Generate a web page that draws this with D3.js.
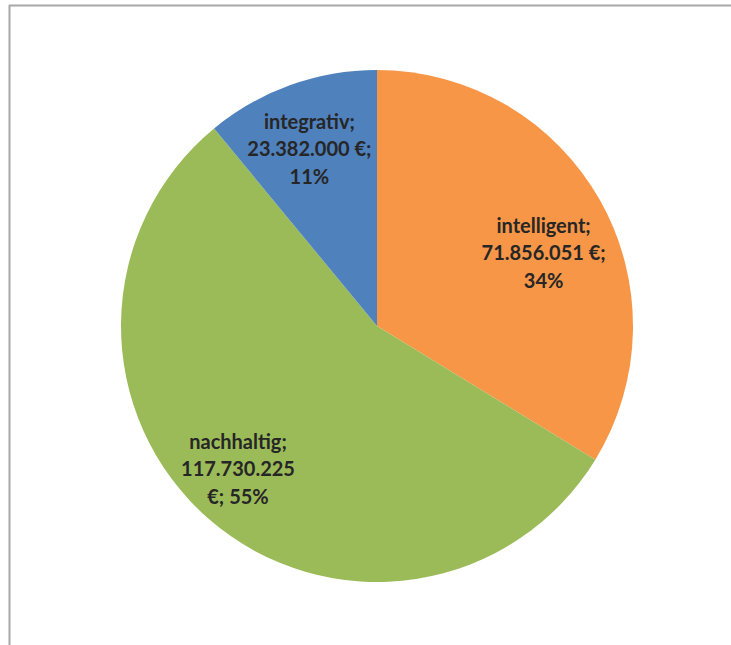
<!DOCTYPE html>
<html>
<head>
<meta charset="utf-8">
<script src="https://cdn.jsdelivr.net/npm/d3@7"></script>
<style>
  html, body { margin: 0; padding: 0; background: #ffffff; }
  svg { display: block; }
</style>
</head>
<body>
<svg id="chart" width="731" height="645"></svg>
<script>
// ---- data ----
const categories = ["intelligent", "nachhaltig", "integrativ"];
const amounts = [71856051, 117730225, 23382000];
const amountLabels = ["71.856.051 €", "117.730.225", "23.382.000 €"];
const percentLabels = ["34%", "55%", "11%"];
const sliceColors = ["#F79646", "#9BBB59", "#4F81BD"];

// ---- drawing ----
const svg = d3.select("#chart");
const cx = 377, cy = 326, R = 256;

// frame (left & top edges visible)
svg.append("line").attr("x1", 9.5).attr("y1", 5).attr("x2", 9.5).attr("y2", 645)
  .attr("stroke", "#a8a8a8").attr("stroke-width", 2);
svg.append("line").attr("x1", 9).attr("y1", 5.5).attr("x2", 731).attr("y2", 5.5)
  .attr("stroke", "#a8a8a8").attr("stroke-width", 2);

const data = categories.map((c, i) => ({ name: c, value: amounts[i], amount: amountLabels[i], pct: percentLabels[i], color: sliceColors[i] }));

const pie = d3.pie().value(d => d.value).sort(null).startAngle(0).endAngle(2 * Math.PI);
const arcs = pie(data);
const arc = d3.arc().innerRadius(0).outerRadius(R);

const g = svg.append("g").attr("transform", `translate(${cx},${cy})`);
g.selectAll("path.slice").data(arcs).enter().append("path")
  .attr("class", "slice")
  .attr("d", arc)
  .attr("fill", d => d.data.color);

// label lines (Excel-style wrapping)
const labelLines = {
  intelligent: d => [d.name + ";", d.amount + ";", d.pct],
  nachhaltig: d => [d.name + ";", d.amount, "€; " + d.pct],
  integrativ: d => [d.name + ";", d.amount + ";", d.pct]
};
// label radius factor and angular nudge per slice (Excel best-fit placement)
const labelPlace = {
  intelligent: { r: 0.71, da: 0.10 },
  nachhaltig: { r: 0.78, da: 0.055 },
  integrativ: { r: 0.74, da: -0.02 }
};
const lineH = 27.5;

arcs.forEach(a => {
  const p = labelPlace[a.data.name];
  const mid = (a.startAngle + a.endAngle) / 2 + p.da;
  const rr = R * p.r;
  const x = rr * Math.sin(mid);
  const y = -rr * Math.cos(mid);
  const lines = labelLines[a.data.name](a.data);
  const t = g.append("text")
    .attr("x", x).attr("y", y)
    .attr("text-anchor", "middle")
    .attr("font-family", "Lato, 'Open Sans', sans-serif")
    .attr("font-weight", "bold")
    .attr("font-size", 20)
    .attr("fill", "#262626");
  lines.forEach((ln, i) => {
    t.append("tspan")
      .attr("x", x)
      .attr("y", y + (i - (lines.length - 1) / 2) * lineH)
      .attr("dy", "0.35em")
      .text(ln);
  });
});
</script>
</body>
</html>
